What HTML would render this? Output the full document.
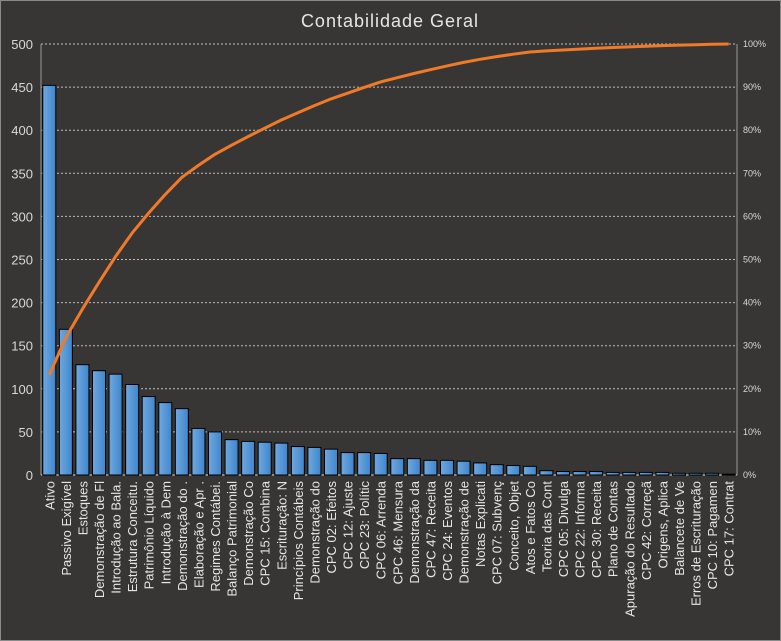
<!DOCTYPE html>
<html><head><meta charset="utf-8">
<style>
html,body{margin:0;padding:0;background:#383635;}
svg{display:block;font-family:"Liberation Sans",sans-serif;}
</style></head>
<body>
<svg id="c" width="781" height="641" xmlns="http://www.w3.org/2000/svg">
<defs>
<linearGradient id="g" x1="0" x2="1" y1="0" y2="0">
<stop offset="0" stop-color="#6fa8e0"/><stop offset="1" stop-color="#3f86cc"/>
</linearGradient>
</defs>
<rect x="0.5" y="0.5" width="780" height="640" fill="#383635" stroke="#8a8a8a"/>
<text x="390" y="27" fill="#e6e6e6" font-size="18" text-anchor="middle" letter-spacing="1">Contabilidade Geral</text>
<g id="grid"></g>
<g id="bars"></g>
<g id="labels"></g>
</svg>
<script>
const vals=[452,169,128,121,117,105,91,84,77,54,50,41,39,38,37,33,32,30,26,26,25,19,19,17,17,16,14,12,11,10,5,4,4,4,3,3,3,3,2,2,2,1];
const names=["Ativo","Passivo Exigível","Estoques","Demonstração de Fl","Introdução  ao Bala.","Estrutura Conceitu.","Patrimônio Líquido","Introdução à Dem","Demonstração do .","Elaboração e Apr .","Regimes Contábei.","Balanço Patrimonial","Demonstração Co","CPC 15: Combina","Escrituração: N","Princípios Contábeis","Demonstração do","CPC 02: Efeitos","CPC 12: Ajuste","CPC 23: Polític","CPC 06: Arrenda","CPC 46: Mensura","Demonstração da","CPC 47: Receita","CPC 24: Eventos","Demonstração de","Notas Explicati","CPC 07: Subvenç","Conceito, Objet","Atos e Fatos Co","Teoria das Cont","CPC 05: Divulga","CPC 22: Informa","CPC 30: Receita","Plano de Contas","Apuração do Resultado","CPC 42: Correçã","Origens, Aplica","Balancete de Ve","Erros de Escrituração","CPC 10: Pagamen","CPC 17: Contrat"];
const NS="http://www.w3.org/2000/svg";
const L=41,R=737,T=44,B=475,H=B-T;
const pitch=(R-L)/vals.length;
function el(t,a,p,txt){const e=document.createElementNS(NS,t);for(const k in a)e.setAttribute(k,a[k]);if(txt!==undefined)e.textContent=txt;document.getElementById(p).appendChild(e);return e;}
for(let i=0;i<=10;i++){const y=B-H*i/10;
 if(i>0)el('line',{x1:L,x2:R,y1:y,y2:y,stroke:'#bdbdbd','stroke-dasharray':'2,2','stroke-width':1},'grid');
 el('text',{x:R+6,y:y+3,fill:'#d8d8d8','font-size':9},'grid',(i*10)+'%');}
for(let i=0;i<=10;i++){const y=B-H*i/10;
 el('text',{x:33,y:y+5,fill:'#d8d8d8','font-size':13,'text-anchor':'end'},'grid',String(i*50));}
el('line',{x1:L,x2:L,y1:T,y2:B,stroke:'#999'},'grid');
el('line',{x1:R,x2:R,y1:T,y2:B,stroke:'#999'},'grid');
el('line',{x1:L,x2:R,y1:B,y2:B,stroke:'#ddd'},'grid');
const total=vals.reduce((a,b)=>a+b,0);let cum=0,pts=[];
vals.forEach((v,i)=>{const cx=L+pitch*(i+0.5),h=v*H/500,w=13;
 el('rect',{x:cx-w/2,y:B-h,width:w,height:h,fill:'url(#g)',stroke:'#000','stroke-width':1},'bars');
 cum+=v;pts.push(cx.toFixed(1)+','+(B-H*cum/total).toFixed(1));
 el('text',{transform:`translate(${cx+5},481) rotate(-90)`,fill:'#e6e6e6','font-size':13,'text-anchor':'end'},'labels',names[i]);});
el('polyline',{points:pts.join(' '),fill:'none',stroke:'#f07a28','stroke-width':3,'stroke-linejoin':'round'},'bars');
</script>
</body></html>
